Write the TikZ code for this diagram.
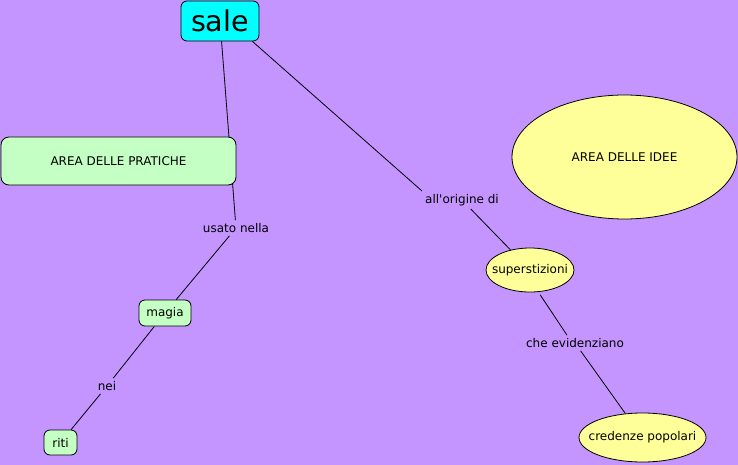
\documentclass[tikz,border=0pt]{standalone}
\usepackage{fontspec}
\setmainfont{DejaVu Sans}
\usetikzlibrary{shapes.geometric,calc}
\definecolor{bgc}{RGB}{196,148,255}
\definecolor{cyanc}{RGB}{0,255,255}
\definecolor{greenc}{RGB}{196,255,196}
\definecolor{yellowc}{RGB}{255,255,153}
\pgfdeclarelayer{lines}
\pgfdeclarelayer{bgl}
\pgfsetlayers{bgl,lines,main}
\tikzset{
  every node/.style={font=\fontsize{12}{14}\selectfont, text=black},
  rbox/.style={draw=black, line width=0.8pt, rounded corners=6pt, fill=greenc, inner sep=0pt},
  ell/.style={draw=black, line width=0.8pt, ellipse, fill=yellowc, inner sep=0pt},
  lab/.style={inner sep=3pt},
  conn/.style={draw=black, line width=0.8pt}
}
\begin{document}
\begin{tikzpicture}[x=1pt,y=-1pt]
\begin{pgfonlayer}{bgl}
\path[fill=bgc,use as bounding box] (0,0) rectangle (738,465);
\end{pgfonlayer}
\node[rbox, fill=cyanc, minimum width=78pt, minimum height=40pt, font=\fontsize{28.6}{30}\selectfont] (sale) at (220,21) {sale};
\node[rbox, rounded corners=8pt, minimum width=235pt, minimum height=48pt] (prat) at (118.5,161) {AREA DELLE PRATICHE};
\node[rbox, minimum width=52pt, minimum height=26pt] (magia) at (165,313) {magia};
\node[rbox, minimum width=33pt, minimum height=25pt] (riti) at (60.5,442.5) {riti};
\node[ell, minimum width=225pt, minimum height=124pt] (idee) at (624.5,157) {\makebox[0pt]{AREA DELLE IDEE}};
\node[ell, minimum width=88pt, minimum height=44pt] (sup) at (530,270) {\makebox[0pt]{superstizioni}};
\node[ell, minimum width=127pt, minimum height=49pt] (cred) at (642.5,437.5) {\makebox[0pt]{credenze popolari}};
\node[lab] (usato) at (236,228) {usato nella};
\node[lab] (nei) at (107,386) {nei};
\node[lab] (orig) at (462,200) {all\textquotesingle origine di};
\node[lab] (che) at (575,343) {che evidenziano};
\begin{pgfonlayer}{lines}
\draw[conn] (sale) -- (usato);
\draw[conn] (usato) -- (magia);
\draw[conn] (magia) -- (nei);
\draw[conn] (nei) -- (riti);
\draw[conn] ($(sale.south east)+(-7,0)$) -- (orig.north west);
\draw[conn] (orig) -- (sup);
\draw[conn] ($(sup.-65)+(0,3)$) -- ($(che.north)+(-8,0)$);
\draw[conn] (che) -- (cred);
\end{pgfonlayer}
\end{tikzpicture}
\end{document}
